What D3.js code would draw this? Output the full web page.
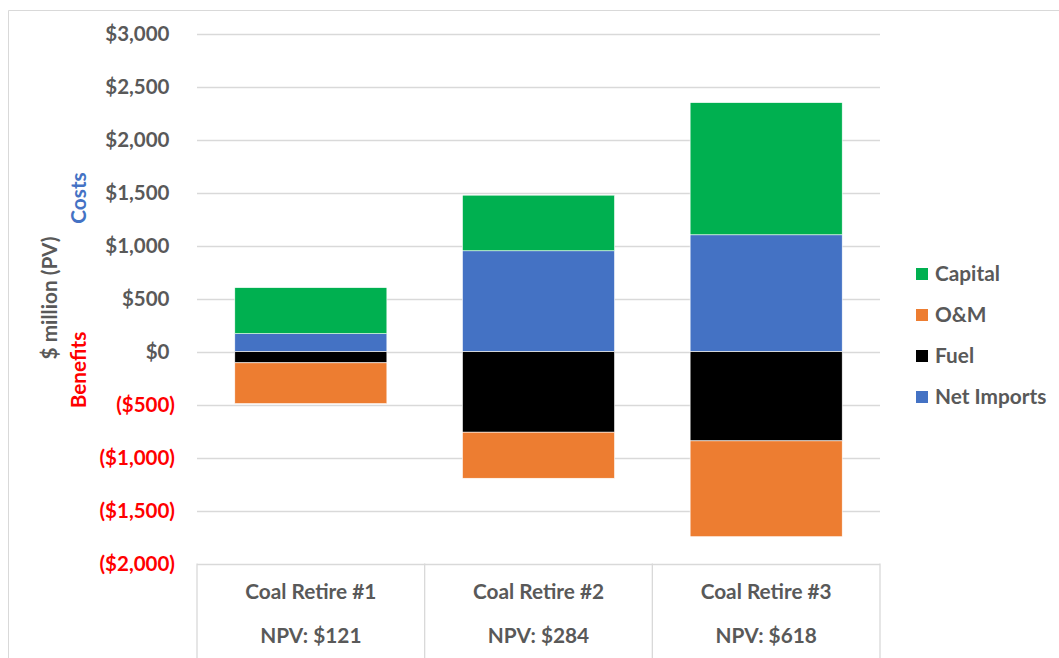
<!DOCTYPE html>
<html>
<head>
<meta charset="utf-8">
<script src="https://cdn.jsdelivr.net/npm/d3@7"></script>
<style>
  html, body { margin: 0; padding: 0; background: #fff; }
  svg { display: block; font-family: Lato, "Open Sans", sans-serif; font-weight: bold; }
</style>
</head>
<body>
<svg id="chart" width="1059" height="658"></svg>
<script>
// ---- data ----
const categories = ["Coal Retire #1", "Coal Retire #2", "Coal Retire #3"];
const npvLabels = ["NPV: $121", "NPV: $284", "NPV: $618"];
const netImports = [170, 953, 1104];
const capital = [435, 525, 1248];
const fuel = [-105, -760, -842];
const om = [-385, -435, -905];
const yTicks = [3000, 2500, 2000, 1500, 1000, 500, 0, -500, -1000, -1500, -2000];
const legendOrder = ["Capital", "O&M", "Fuel", "Net Imports"];

const colors = { "Capital": "#00B050", "O&M": "#ED7D31", "Fuel": "#000000", "Net Imports": "#4472C4" };

const rows = categories.map((c, i) => ({
  cat: c, "Net Imports": netImports[i], "Fuel": fuel[i], "O&M": om[i], "Capital": capital[i]
}));
const stackKeys = ["Net Imports", "Fuel", "O&M", "Capital"];
const series = d3.stack().keys(stackKeys).offset(d3.stackOffsetDiverging)(rows);

const svg = d3.select("#chart");
const W = 1059, H = 658;
const plotL = 197, plotR = 880, plotT = 34, plotB = 563.5;
const FS = 20.8;

// outer chart border
svg.append("path")
  .attr("d", `M8.5,${H} V10.5 H${W}`)
  .attr("fill", "none").attr("stroke", "#d9d9d9").attr("stroke-width", 1);

const x = d3.scaleBand().domain(categories).range([plotL, plotR])
  .paddingInner(0.332).paddingOuter(0.166);
const y = d3.scaleLinear().domain([-2000, 3000]).range([plotB, plotT]);

// gridlines
svg.append("g").selectAll("line").data(yTicks).join("line")
  .attr("x1", plotL).attr("x2", plotR)
  .attr("y1", d => Math.round(y(d)) + 0.5).attr("y2", d => Math.round(y(d)) + 0.5)
  .attr("stroke", "#d9d9d9").attr("stroke-width", 1.3);

// y tick labels via axis
const fmt = d => d < 0 ? `($${d3.format(",")(-d)})` : `$${d3.format(",")(d)}`;
const yAxis = svg.append("g").attr("transform", `translate(175,0)`)
  .call(d3.axisLeft(y).tickValues(yTicks).tickFormat(fmt).tickSize(0).tickPadding(0));
yAxis.select(".domain").remove();
yAxis.selectAll("text")
  .attr("font-family", "Lato, sans-serif").attr("font-weight", "bold")
  .attr("font-size", 20.5)
  .attr("fill", d => d < 0 ? "#FF0000" : "#595959")
  .attr("dx", d => d < 0 ? 0 : -5.5);

// bars
svg.append("g").selectAll("g").data(series).join("g")
  .attr("fill", d => colors[d.key])
  .selectAll("rect").data(d => d).join("rect")
  .attr("x", d => x(d.data.cat))
  .attr("width", x.bandwidth())
  .attr("y", d => y(Math.max(d[0], d[1])))
  .attr("height", d => Math.abs(y(d[0]) - y(d[1])))
  .attr("stroke", "#ffffff").attr("stroke-width", 0.6);

// category box lines
const step = x.step();
const bounds = d3.range(categories.length + 1).map(i => plotL + i * step);
svg.append("g").selectAll("line").data(bounds).join("line")
  .attr("x1", d => d).attr("x2", d => d)
  .attr("y1", plotB).attr("y2", H)
  .attr("stroke", "#d9d9d9").attr("stroke-width", 1.3);

// category labels
const catG = svg.append("g");
catG.selectAll("text.cat").data(categories).join("text").attr("class", "cat")
  .attr("x", d => x(d) + x.bandwidth() / 2).attr("y", 599)
  .attr("text-anchor", "middle").attr("font-size", FS).attr("fill", "#595959")
  .text(d => d);
catG.selectAll("text.npv").data(npvLabels).join("text").attr("class", "npv")
  .attr("x", (d, i) => x(categories[i]) + x.bandwidth() / 2).attr("y", 643)
  .attr("text-anchor", "middle").attr("font-size", FS).attr("fill", "#595959")
  .text(d => d);

// axis titles
svg.append("text").attr("transform", "translate(57,298) rotate(-90)")
  .attr("text-anchor", "middle").attr("font-size", FS).attr("fill", "#595959")
  .text("$ million (PV)");
svg.append("text").attr("transform", "translate(86,198) rotate(-90)")
  .attr("text-anchor", "middle").attr("font-size", FS).attr("fill", "#4472C4")
  .text("Costs");
svg.append("text").attr("transform", "translate(86,370) rotate(-90)")
  .attr("text-anchor", "middle").attr("font-size", FS).attr("fill", "#FF0000")
  .text("Benefits");

// legend
const leg = svg.append("g").selectAll("g").data(legendOrder).join("g")
  .attr("transform", (d, i) => `translate(916, ${274 + i * 41})`);
leg.append("rect").attr("x", 0).attr("y", -6).attr("width", 12).attr("height", 12)
  .attr("fill", d => colors[d]);
leg.append("text").attr("x", 19).attr("y", 0).attr("dy", "0.35em")
  .attr("font-size", FS).attr("fill", "#595959").text(d => d);
</script>
</body>
</html>
